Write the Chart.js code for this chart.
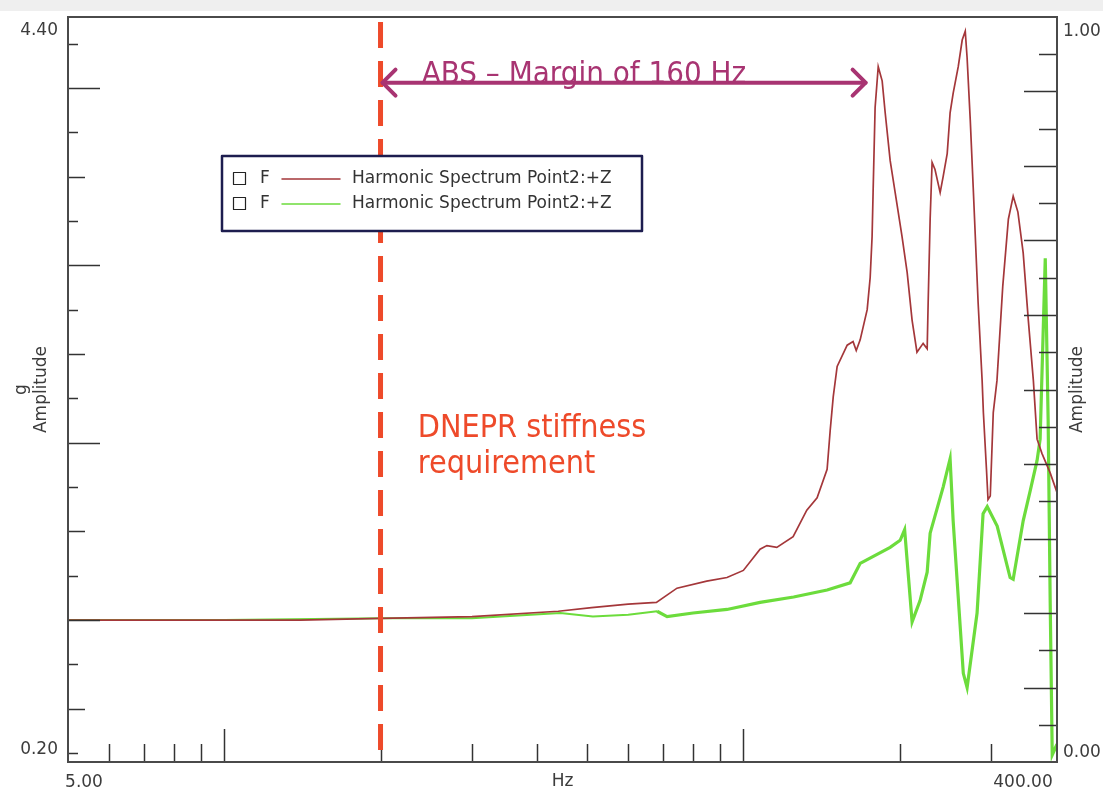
<!DOCTYPE html>
<html>
<head>
<meta charset="utf-8">
<title>Harmonic Spectrum</title>
<script src="https://cdn.jsdelivr.net/npm/chart.js@4.4.0/dist/chart.umd.min.js"></script>
<style>
  html, body { margin: 0; padding: 0; background: #fff; }
  #wrap { width: 1103px; height: 794px; }
</style>
</head>
<body>
<div id="wrap"><canvas id="spectrumChart" width="1103" height="794"></canvas></div>
<script>
// values (Hz / g)
const redFreq = [5, 7, 10, 14, 20, 30, 44, 51, 60, 68, 74.5, 85, 93, 100, 107.7, 111, 116, 124.7, 132.5, 138.7,
    145, 147, 149, 151.6, 158.5, 162.7, 165, 167.9, 173.2, 175.5, 177, 177.8, 179.4, 181.9, 185.1, 187.6, 191.8, 196.1,
    202.2, 206.8, 211.4, 216, 222, 226, 227, 229, 231, 234, 239.4, 242.6, 247, 250.2, 253.6, 259.4, 264, 267.6, 269.8,
    273.6, 277.2, 283.3, 288.4, 290, 294, 296, 299, 303, 308, 316, 324, 331, 338, 346, 354, 362, 368, 376, 390, 402];
const redAmp = [1.00, 1.00, 1.00, 1.00, 1.01, 1.02, 1.05, 1.07, 1.09, 1.10, 1.18, 1.22, 1.24, 1.28, 1.40, 1.42, 1.41, 1.47, 1.62, 1.69,
    1.85, 2.07, 2.26, 2.43, 2.55, 2.57, 2.52, 2.58, 2.75, 2.93, 3.16, 3.41, 3.89, 4.12, 4.04, 3.86, 3.59, 3.41,
    3.16, 2.96, 2.69, 2.51, 2.56, 2.53, 2.79, 3.26, 3.58, 3.54, 3.41, 3.50, 3.63, 3.86, 3.97, 4.12, 4.27, 4.32, 4.17,
    3.82, 3.44, 2.79, 2.35, 2.17, 1.85, 1.68, 1.70, 2.17, 2.35, 2.88, 3.26, 3.39, 3.30, 3.07, 2.69, 2.35, 2.02, 1.94, 1.83, 1.72];

const greenFreq = [5, 10, 20, 30, 44.4, 51.3, 60, 68.2, 71.3, 80, 93, 107.7, 125, 145, 160.6, 167.9, 191.8, 200.5, 204.5, 211.4,
    219, 226, 229, 242.6, 250.2, 253.6, 265.3, 269.8, 282, 289.6, 295, 308.3, 326.5, 331, 346, 357, 368, 373, 381.6, 386.5,
    390, 393.6, 402];
const greenAmp = [1.00, 1.00, 1.01, 1.01, 1.04, 1.02, 1.03, 1.05, 1.02, 1.04, 1.06, 1.10, 1.13, 1.17, 1.21, 1.32, 1.41, 1.45, 1.51, 0.99,
    1.11, 1.27, 1.49, 1.75, 1.91, 1.56, 0.70, 0.62, 1.04, 1.60, 1.64, 1.53, 1.24, 1.23, 1.56, 1.73, 1.90, 2.02, 3.04, 2.13,
    1.11, 0.24, 0.30];

const seriesLabel = 'Harmonic Spectrum Point2:+Z';
const freqTicks = [6, 7, 8, 9, 10, 20, 30, 40, 50, 60, 70, 80, 90, 100, 200, 300];
const freqDecades = [10, 100];
const freqLabels = ['5.00', '400.00'];
const gLabels = ['4.40', '0.20'];
const rightLabels = ['1.00', '0.00'];

const stiffnessHz = 20;
const marginEndHz = 172;
const arrowLevel = 4.03;
const marginText = 'ABS \u2013 Margin of 160 Hz';
const stiffnessText = ['DNEPR stiffness', 'requirement'];

const AXIS_FONT = '17px "DejaVu Sans", sans-serif';
const NOTE_FONT = '31px "DejaVu Sans Condensed", "Open Sans", sans-serif';

const toPoints = (fs, vs) => fs.map((f, i) => ({ x: f, y: vs[i] }));

function seg(ctx, x1, y1, x2, y2) {
    ctx.beginPath();
    ctx.moveTo(x1, y1);
    ctx.lineTo(x2, y2);
    ctx.stroke();
}

const decorations = {
    id: 'decorations',
    beforeDraw(chart) {
        const ctx = chart.ctx;
        ctx.save();
        ctx.fillStyle = '#ffffff';
        ctx.fillRect(0, 0, chart.width, chart.height);
        ctx.fillStyle = '#efefef';
        ctx.fillRect(0, 0, chart.width, 11);
        ctx.restore();
    },
    afterDatasetsDraw(chart) {
        const { ctx, chartArea: a, scales } = chart;
        const x = scales.x, y = scales.y, y2 = scales.y2;
        ctx.save();

        // ticks
        ctx.strokeStyle = '#333';
        ctx.lineWidth = 1.5;
        for (let i = 1; i <= 17; i++) {
            const py = Math.round(y.getPixelForValue(i * 0.25)) + 0.5;
            const len = i % 4 === 0 ? 32 : (i % 2 === 0 ? 17 : 10);
            seg(ctx, a.left, py, a.left + len, py);
        }
        for (let i = 1; i < 20; i++) {
            const py = Math.round(y2.getPixelForValue(i * 0.05)) + 0.5;
            const len = i % 2 === 0 ? 33 : 18;
            seg(ctx, a.right, py, a.right - len, py);
        }
        freqTicks.forEach(f => {
            const px = Math.round(x.getPixelForValue(f)) + 0.5;
            const len = freqDecades.includes(f) ? 33 : 18;
            seg(ctx, px, a.bottom, px, a.bottom - len);
        });

        // frame
        ctx.strokeStyle = '#4a4a4a';
        ctx.lineWidth = 2;
        ctx.strokeRect(a.left, a.top, a.right - a.left, a.bottom - a.top);

        // axis texts
        ctx.fillStyle = '#3c3c3c';
        ctx.font = AXIS_FONT;
        ctx.textBaseline = 'middle';
        ctx.textAlign = 'right';
        ctx.fillText(gLabels[0], a.left - 10, a.top + 14);
        ctx.fillText(gLabels[1], a.left - 10, a.bottom - 12);
        ctx.textAlign = 'left';
        ctx.fillText(rightLabels[0], a.right + 6, a.top + 15);
        ctx.fillText(rightLabels[1], a.right + 6, a.bottom - 9);
        ctx.textAlign = 'center';
        ctx.fillText(freqLabels[0], a.left + 16, a.bottom + 21);
        ctx.fillText(freqLabels[1], a.right - 34, a.bottom + 21);
        ctx.fillText('Hz', (a.left + a.right) / 2, a.bottom + 20);

        const midY = (a.top + a.bottom) / 2;
        [[a.left - 46, 'g'], [a.left - 26, 'Amplitude'], [a.right + 21, 'Amplitude']].forEach(([tx, t]) => {
            ctx.save();
            ctx.translate(tx, midY);
            ctx.rotate(-Math.PI / 2);
            ctx.fillText(t, 0, 0);
            ctx.restore();
        });

        // stiffness requirement line
        const sx = x.getPixelForValue(stiffnessHz);
        ctx.strokeStyle = '#ee4a2a';
        ctx.lineWidth = 5;
        ctx.setLineDash([26, 13]);
        seg(ctx, sx, a.top + 5, sx, a.bottom);
        ctx.setLineDash([]);

        // margin arrow
        const ex = x.getPixelForValue(marginEndHz);
        const ay = y.getPixelForValue(arrowLevel);
        ctx.strokeStyle = '#a83472';
        ctx.lineWidth = 4;
        ctx.lineCap = 'round';
        ctx.lineJoin = 'round';
        seg(ctx, sx + 2, ay, ex, ay);
        ctx.beginPath();
        ctx.moveTo(sx + 15, ay - 13); ctx.lineTo(sx + 2, ay); ctx.lineTo(sx + 15, ay + 13);
        ctx.moveTo(ex - 13, ay - 13); ctx.lineTo(ex, ay); ctx.lineTo(ex - 13, ay + 13);
        ctx.stroke();

        ctx.font = NOTE_FONT;
        ctx.textAlign = 'left';
        ctx.textBaseline = 'alphabetic';
        ctx.fillStyle = '#a83472';
        ctx.fillText(marginText, x.getPixelForValue(24), ay);

        ctx.font = NOTE_FONT.replace('31px', '32px');
        ctx.fillStyle = '#ee4a2a';
        ctx.fillText(stiffnessText[0], x.getPixelForValue(23.6), y.getPixelForValue(2.03));
        ctx.fillText(stiffnessText[1], x.getPixelForValue(23.6), y.getPixelForValue(1.83));

        // legend box
        const lx = 222, ly = 156, lw = 420, lh = 75;
        ctx.fillStyle = '#ffffff';
        ctx.fillRect(lx, ly, lw, lh);
        ctx.strokeStyle = '#1d1d4f';
        ctx.lineWidth = 2.5;
        ctx.strokeRect(lx, ly, lw, lh);
        ctx.font = AXIS_FONT;
        ctx.textBaseline = 'middle';
        chart.data.datasets.forEach((ds, i) => {
            const ry = ly + 23 + i * 25;
            ctx.strokeStyle = '#222';
            ctx.lineWidth = 1.2;
            ctx.strokeRect(lx + 11.5, ry - 6.5, 12, 12);
            ctx.fillStyle = '#333';
            ctx.fillText('F', lx + 38, ry);
            ctx.strokeStyle = ds.borderColor;
            ctx.lineWidth = 1.5;
            seg(ctx, lx + 60, ry, lx + 118, ry);
            ctx.fillStyle = '#333';
            ctx.fillText(ds.label, lx + 130, ry);
        });

        ctx.restore();
    }
};

new Chart(document.getElementById('spectrumChart'), {
    type: 'line',
    data: {
        datasets: [
            {
                label: seriesLabel,
                data: toPoints(redFreq, redAmp),
                borderColor: '#a4373a',
                borderWidth: 1.7,
                pointRadius: 0,
                tension: 0,
            },
            {
                label: seriesLabel,
                data: toPoints(greenFreq, greenAmp),
                borderColor: '#6cdc3c',
                borderWidth: 2,
                pointRadius: 0,
                tension: 0,
                // the measured trace is fuzzy above ~60 Hz
                segment: { borderWidth: c => (c.p0.parsed.x > 60 ? 3.2 : 2) },
            }
        ]
    },
    options: {
        responsive: false,
        animation: false,
        layout: { padding: { left: 68, top: 17, right: 46, bottom: 32 } },
        plugins: { legend: { display: false }, tooltip: { enabled: false } },
        scales: {
            x: { type: 'logarithmic', min: 5, max: 402, display: false },
            y: { type: 'linear', min: 0.2, max: 4.4, display: false },
            y2: { type: 'linear', position: 'right', min: 0, max: 1, display: false }
        }
    },
    plugins: [decorations]
});
</script>
</body>
</html>
